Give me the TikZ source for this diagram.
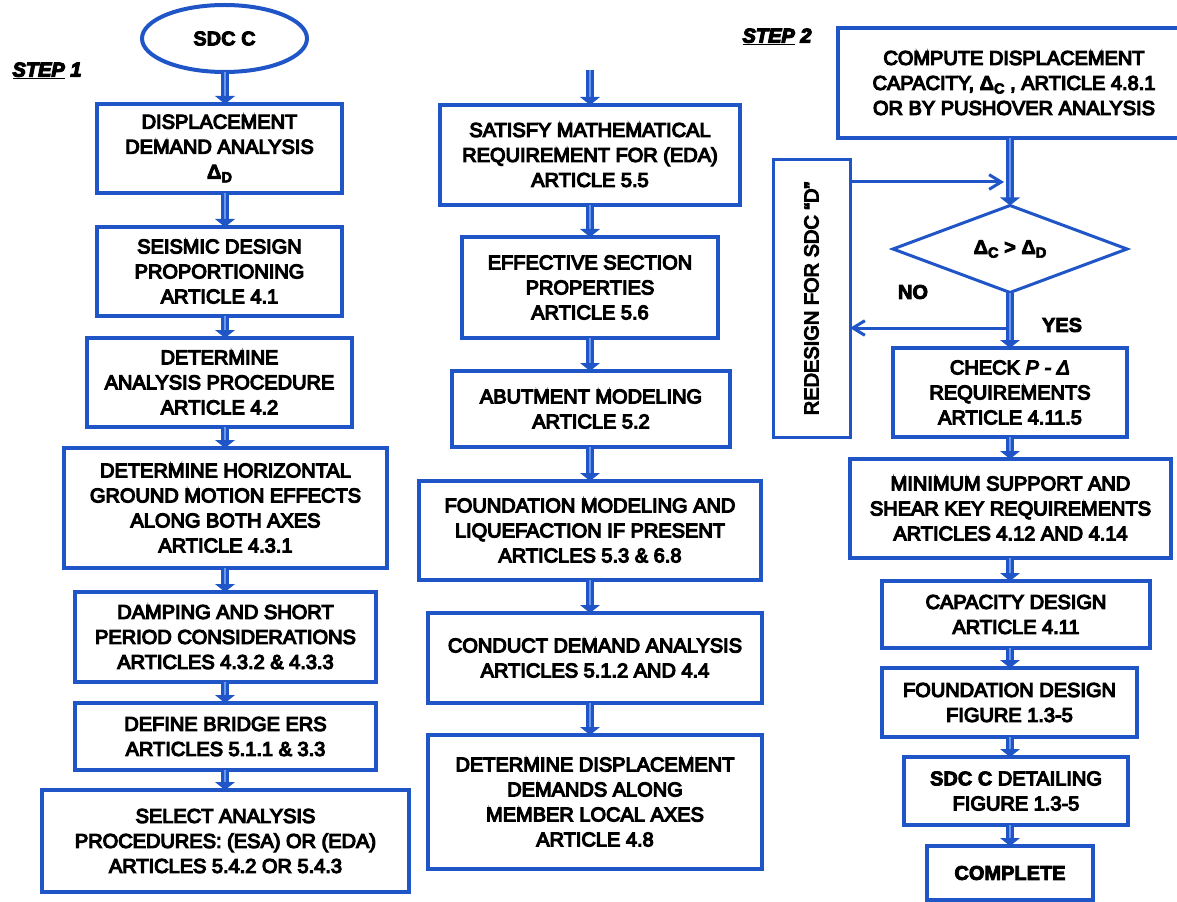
\documentclass[tikz,border=0pt]{standalone}
\usepackage{fontspec}
\newfontfamily\boxfont{Liberation Sans}[FakeBold=6]
\newfontfamily\heavyfont{Liberation Sans Bold}[FakeBold=4]
\usetikzlibrary{shapes.geometric,arrows.meta,calc}
\definecolor{flowc}{HTML}{1F55C6}
\definecolor{flowlt}{HTML}{6A98EC}
% subscript used for the displacement symbols
\newcommand\dsub[1]{\raisebox{-0.35ex}{\fontsize{11}{12}\selectfont #1}}
% thick double-toned flow arrow: start point, target node, column coordinate
\newcommand\flowdown[3]{%
  \draw[flowshaft] (#1 -| #3) -- ($(#2.north -| #3)+(0,-7)$);
  \draw[flowcore] (#1 -| #3) -- ($(#2.north -| #3)+(0,-7)$);
  \fill[flowc] (#2.north -| #3) -- ++(-10,-8) -- ++(20,0) -- cycle;}
\begin{document}
\begin{tikzpicture}[x=0.75pt,y=-0.75pt,
  sz/.style 2 args={minimum width=#1*0.75pt,minimum height=#2*0.75pt},
  txt/.style={font=\boxfont\fontsize{15}{18.75}\selectfont, align=center, inner sep=0pt, outer sep=0pt},
  box/.style={txt, draw=flowc, line width=3pt, fill=white, rectangle},
  flowshaft/.style={draw=flowc, line width=6pt},
  flowcore/.style={draw=flowlt, line width=0.9pt},
  thinarrow/.style={draw=flowc, line width=2.25pt, -{Straight Barb[length=9pt,width=11pt]}}]
\useasboundingbox (0,0) rectangle (1177,902);
\fill[white] (0,0) rectangle (1177,902);

% column axes for the vertical flow arrows
\coordinate (colL) at (225,0);
\coordinate (colM) at (590,0);
\coordinate (colR) at (1010,0);

% ---------- step 1 ----------
\node[txt] (s1) at (47,71) {\bfseries\itshape\underline{STEP}~1};
\node[txt, ellipse, draw=flowc, line width=3pt, sz={165}{67}] (E) at (224.5,38.5) {\heavyfont SDC C};
\node[box, sz={245}{89}] (L1) at (219.5,148.5) {DISPLACEMENT\\DEMAND ANALYSIS\\{\heavyfont Δ\dsub{D}}};
\node[box, sz={245}{89}] (L2) at (219.5,271.5) {SEISMIC DESIGN\\PROPORTIONING\\ARTICLE 4.1};
\node[box, sz={265}{89}] (L3) at (219.5,382.5) {DETERMINE\\ANALYSIS PROCEDURE\\ARTICLE 4.2};
\node[box, sz={323}{120}] (L4) at (225.5,508) {DETERMINE HORIZONTAL\\GROUND MOTION EFFECTS\\ALONG BOTH AXES\\ARTICLE 4.3.1};
\node[box, sz={301}{90}] (L5) at (225.5,637) {DAMPING AND SHORT\\PERIOD CONSIDERATIONS\\ARTICLES 4.3.2 \& 4.3.3};
\node[box, sz={301}{67}] (L6) at (225.5,736.5) {DEFINE BRIDGE ERS\\ARTICLES 5.1.1 \& 3.3};
\node[box, sz={367}{102}] (L7) at (225.5,841) {SELECT ANALYSIS\\PROCEDURES: (ESA) OR (EDA)\\ARTICLES 5.4.2 OR 5.4.3};

\flowdown{E.south}{L1}{colL}
\flowdown{L1.south}{L2}{colL}
\flowdown{L2.south}{L3}{colL}
\flowdown{L3.south}{L4}{colL}
\flowdown{L4.south}{L5}{colL}
\flowdown{L5.south}{L6}{colL}
\flowdown{L6.south}{L7}{colL}

% ---------- middle column ----------
\coordinate (mtop) at (590,70);
\node[box, sz={300}{100}] (M1) at (590,155) {SATISFY MATHEMATICAL\\REQUIREMENT FOR (EDA)\\ARTICLE 5.5};
\node[box, sz={256}{101}] (M2) at (590,287.5) {EFFECTIVE SECTION\\PROPERTIES\\ARTICLE 5.6};
\node[box, sz={278}{76}] (M3) at (591,409) {ABUTMENT MODELING\\ARTICLE 5.2};
\node[box, sz={342}{99}] (M4) at (590,530.5) {FOUNDATION MODELING AND\\LIQUEFACTION IF PRESENT\\ARTICLES 5.3 \& 6.8};
\node[box, sz={334}{90}] (M5) at (595,658) {CONDUCT DEMAND ANALYSIS\\ARTICLES 5.1.2 AND 4.4};
\node[box, sz={334}{134}] (M6) at (595,802) {DETERMINE DISPLACEMENT\\DEMANDS ALONG\\MEMBER LOCAL AXES\\ARTICLE 4.8};

\flowdown{mtop}{M1}{colM}
\flowdown{M1.south}{M2}{colM}
\flowdown{M2.south}{M3}{colM}
\flowdown{M3.south}{M4}{colM}
\flowdown{M4.south}{M5}{colM}
\flowdown{M5.south}{M6}{colM}

% ---------- step 2 ----------
\node[txt] (s2) at (777,37) {\bfseries\itshape\underline{STEP}~2};
\node[box, sz={352}{110}] (R1) at (1014,83) {COMPUTE DISPLACEMENT\\CAPACITY, {\heavyfont Δ\dsub{C}} , ARTICLE 4.8.1\\OR BY PUSHOVER ANALYSIS};
\node[txt, diamond, draw=flowc, line width=2.25pt, fill=white, aspect=2.7, sz={234}{87}] (D) at (1010,249) {\heavyfont Δ\dsub{C} > Δ\dsub{D}};
\node[box, line width=2.25pt, sz={77}{277}] (RD) at (811.5,298.5) {};
\node[txt, rotate=90] (RDt) at (RD.center) {REDESIGN FOR SDC “D”};
\node[box, sz={234}{89}] (R2) at (1010,392.5) {CHECK \textit{P - Δ}\\REQUIREMENTS\\ARTICLE 4.11.5};
\node[box, sz={321}{99}] (R3) at (1010.5,508.5) {MINIMUM SUPPORT AND\\SHEAR KEY REQUIREMENTS\\ARTICLES 4.12 AND 4.14};
\node[box, sz={268}{67}] (R4) at (1016,614.5) {CAPACITY DESIGN\\ARTICLE 4.11};
\node[box, sz={255}{69}] (R5) at (1009.5,702.5) {FOUNDATION DESIGN\\FIGURE 1.3-5};
\node[box, sz={224}{68}] (R6) at (1016,791) {{\heavyfont SDC C} DETAILING\\FIGURE 1.3-5};
\node[box, sz={166}{54}] (R7) at (1010,873) {\heavyfont COMPLETE};

\flowdown{R1.south}{D}{colR}
\flowdown{D.south}{R2}{colR}
\flowdown{R2.south}{R3}{colR}
\flowdown{R3.south}{R4}{colR}
\flowdown{R4.south}{R5}{colR}
\flowdown{R5.south}{R6}{colR}
\flowdown{R6.south}{R7}{colR}

% redesign loop
\coordinate (j1) at (1004,182);
\coordinate (j2) at (1006,328);
\draw[thinarrow] (RD.east |- j1) -- (j1);
\draw[thinarrow] (j2) -- (j2 -| RD.east);
\node[txt] (no) at (913,292) {\heavyfont NO};
\node[txt] (yes) at (1062,325) {\heavyfont YES};
\end{tikzpicture}
\end{document}
